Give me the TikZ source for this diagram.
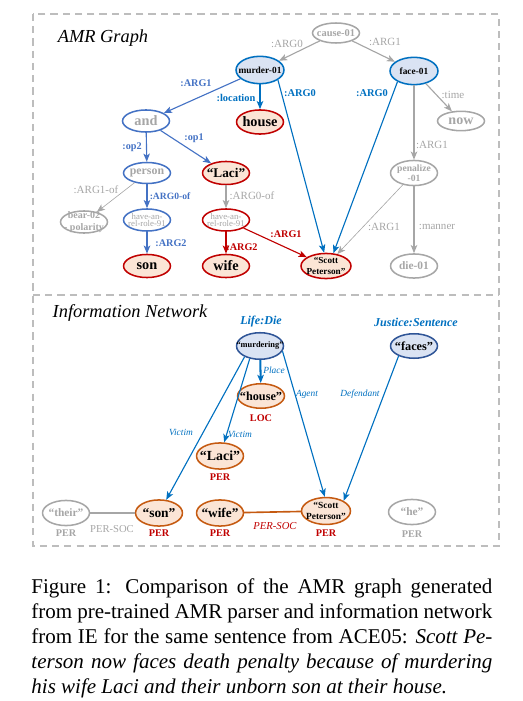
\documentclass[tikz,border=0pt]{standalone}
\usepackage{fontspec}
\setmainfont{Liberation Serif}
\usepackage{xcolor}
\usetikzlibrary{shapes.geometric,arrows.meta}
\definecolor{amrblue}{HTML}{4472C4}
\definecolor{ieblue}{HTML}{0070C0}
\definecolor{nodeblue}{HTML}{DAE3F3}
\definecolor{ienavy}{HTML}{2F5597}
\definecolor{peach}{HTML}{FBE5D6}
\definecolor{cred}{HTML}{C00000}
\definecolor{corange}{HTML}{C55A11}
\definecolor{cgray}{HTML}{A6A6A6}
\definecolor{framegray}{HTML}{BDBDBD}
\newcommand{\fsz}[2]{\fontsize{#1}{#2}\selectfont}

\begin{document}
\begin{tikzpicture}[
  x=0.49pt, y=-0.49pt,
  amr/.style={ellipse, inner xsep=-6pt, inner ysep=-4pt, line width=0.75pt,
    minimum width=23pt, minimum height=10.8pt, align=center},
  gnode/.style={amr, draw=cgray, text=cgray},
  bnode/.style={amr, draw=amrblue, fill=white, text=cgray},
  bfill/.style={amr, draw=ieblue, fill=nodeblue, minimum width=23.5pt, minimum height=13.4pt},
  rnode/.style={amr, draw=cred, fill=peach, minimum height=11.3pt},
  rhave/.style={amr, draw=cred, fill=white, text=cgray},
  ienode/.style={amr, draw=corange, fill=peach, minimum height=12.8pt},
  ibnode/.style={amr, draw=ienavy, fill=nodeblue, minimum height=12.6pt},
  ignode/.style={amr, draw=cgray, text=cgray, minimum height=12.3pt},
  arr/.style={-{Stealth[length=4pt,width=3.2pt,inset=1pt]}, line width=0.55pt},
  garr/.style={arr, color=cgray},
  barr/.style={arr, color=amrblue},
  darr/.style={arr, color=ieblue},
  rarr/.style={arr, color=cred},
  glbl/.style={inner sep=0.5pt, text=cgray, font=\fsz{5.4}{6}},
  blbl/.style={inner sep=0.5pt, text=amrblue, font=\bfseries\fsz{5}{6}},
  dlbl/.style={inner sep=0.5pt, text=ieblue, font=\bfseries\fsz{5.1}{6}},
  rlbl/.style={inner sep=0.5pt, text=cred, font=\bfseries\fsz{5}{6}},
  ilbl/.style={inner sep=0.5pt, text=ieblue, font=\itshape\fsz{4.6}{5}},
  evt/.style={inner sep=0.5pt, text=ieblue, font=\bfseries\itshape\fsz{5.9}{7}},
  per/.style={inner sep=0.5pt, text=cred, font=\bfseries\fsz{5}{6}},
  gper/.style={per, text=cgray},
  title/.style={inner sep=0pt, font=\itshape\fsz{9}{10}}
]
\useasboundingbox (0,0) rectangle (522,701);

% dashed frame
\draw[framegray, line width=0.6pt, dash pattern=on 3.5pt off 2.5pt]
  (33,14) rectangle (499,546);
\draw[framegray, line width=0.6pt, dash pattern=on 3.5pt off 2.5pt]
  (33,295) -- (499,295);

\node[title] (amrtitle) at (103,38) {AMR Graph};
\node[title] (ietitle)  at (130,313) {Information Network};

% AMR graph
\node[gnode, minimum height=9.8pt, font=\bfseries\fsz{5.1}{6}] (cause) at (336,33) {cause-01};
\node[bfill, font=\bfseries\fsz{4.6}{5}] (murder) at (260,70) {murder-01};
\node[bfill, font=\bfseries\fsz{4.6}{5}] (face) at (414,71) {face-01};
\node[rnode, minimum height=11.8pt, font=\bfseries\fsz{7}{8}] (house) at (260,122) {house};
\node[gnode, minimum height=9.5pt, font=\bfseries\fsz{6.9}{8}] (now) at (461,121) {now};
\node[bnode, font=\bfseries\fsz{7}{8}] (and) at (146,121) {and};
\node[bnode, minimum height=10.3pt, font=\bfseries\fsz{5.8}{7}] (person) at (147,173) {person};
\node[rnode, font=\bfseries\fsz{6.5}{7}] (laci) at (226,173) {“Laci”};
\node[gnode, font=\bfseries\fsz{4.9}{5.5}] (bear) at (84,222) {bear-02\\- polarity};
\node[bnode, font=\fsz{4.3}{3.9}] (haveb) at (147,220) {have-an-\\rel-role-91};
\node[rhave, font=\fsz{4.3}{3.9}] (haver) at (226,220) {have-an-\\rel-role-91};
\node[rnode, font=\bfseries\fsz{7}{8}] (son) at (147,266) {son};
\node[rnode, font=\bfseries\fsz{7}{8}] (wife) at (226,266) {wife};
\node[rnode, minimum width=24.5pt, minimum height=12.3pt, font=\bfseries\fsz{4.5}{5.4}] (scott) at (326,266) {“Scott\\Peterson”};
\node[gnode, minimum height=12.3pt, font=\bfseries\fsz{4.7}{4.7}] (penal) at (414,173) {penalize\\-01};
\node[gnode, minimum height=11.8pt, font=\bfseries\fsz{5.6}{6}] (die) at (414,266) {die-01};

\draw[garr] (cause) -- (murder);
\draw[garr] (cause) -- (face);
\draw[barr] (murder) -- (and);
\draw[darr, line width=1pt] (murder) -- (house);
\draw[darr] (murder.-29) -- (scott.98);
\draw[darr] (face.213) -- (scott.60);
\draw[garr] (face) -- (now);
\draw[garr] (face) -- (penal);
\draw[garr, line width=0.3pt] (penal) -- (scott);
\draw[garr] (penal) -- (die);
\draw[barr] (and) -- (person);
\draw[barr] (and) -- (laci);
\draw[garr, line width=0.3pt] (person) -- (bear);
\draw[barr] (person) -- (haveb);
\draw[barr] (haveb) -- (son);
\draw[garr] (laci) -- (haver);
\draw[rarr] (haver) -- (wife);
\draw[rarr] (haver) -- (scott);

\node[glbl] (tcausem) at (287,44) {:ARG0};
\node[glbl] (tcausef) at (385,42) {:ARG1};
\node[blbl] (tmurdera) at (196,83) {:ARG1};
\node[dlbl] (tmurderh) at (236,98) {:location};
\node[dlbl] (tmurders) at (300,93) {:ARG0};
\node[dlbl] (tfaces) at (372,93) {:ARG0};
\node[glbl] (tfacen) at (453,95) {:time};
\node[glbl] (tfacep) at (432,145) {:ARG1};
\node[glbl] (tpenals) at (384,227) {:ARG1};
\node[glbl] (tpenald) at (437,227) {:manner};
\node[blbl] (tandp) at (132,147) {:op2};
\node[blbl] (tandl) at (194,138) {:op1};
\node[glbl] (tpersonb) at (96,190) {:ARG1-of};
\node[blbl, font=\bfseries\fsz{4.7}{6}] (tpersonh) at (170,196) {:ARG0-of};
\node[blbl] (thaves) at (171,243) {:ARG2};
\node[glbl] (tlacih) at (252,196) {:ARG0-of};
\node[rlbl] (thavew) at (242,247) {:ARG2};
\node[rlbl] (thaves2) at (286,234) {:ARG1};

% information network
\node[evt] (lifedie) at (261,322) {Life:Die};
\node[evt] (justice) at (416,322) {Justice:Sentence};
\node[ibnode, minimum height=13pt, font=\bfseries\fsz{4.1}{5}] (murdering) at (260,346) {“murdering”};
\node[ibnode, minimum height=12pt, font=\bfseries\fsz{6}{7}] (faces) at (414,346) {“faces”};
\node[ienode, minimum height=12pt, font=\bfseries\fsz{6}{7}] (ihouse) at (261,396) {“house”};
\node[per] (tloc) at (261,418) {LOC};
\node[ienode, font=\bfseries\fsz{6.8}{8}] (ilaci) at (220,456) {“Laci”};
\node[per] (tlaci) at (220,477) {PER};
\node[ienode, font=\bfseries\fsz{6.6}{8}] (ison) at (159,513) {“son”};
\node[per] (tson) at (159,533) {PER};
\node[ienode, font=\bfseries\fsz{6.5}{8}] (iwife) at (220,513) {“wife”};
\node[per] (twife) at (220,533) {PER};
\node[ignode, font=\bfseries\fsz{5.6}{7}] (their) at (66,513) {“their”};
\node[gper] (ttheir) at (66,533) {PER};
\node[ienode, minimum width=24pt, minimum height=13.2pt, font=\bfseries\fsz{4.6}{5.4}] (iscott) at (326,511) {“Scott\\Peterson”};
\node[per] (tscott) at (326,533) {PER};
\node[ignode, font=\bfseries\fsz{5.6}{7}] (he) at (412,512) {“he”};
\node[gper] (the) at (412,534) {PER};

\draw[darr, line width=1pt] (murdering) -- (ihouse);
\draw[darr] (murdering.215) -- (ison);
\draw[darr] (murdering.231) -- (ilaci);
\draw[darr] (murdering.-13) -- (iscott.95);
\draw[darr] (faces.213) -- (iscott.30);
\draw[cgray, line width=0.8pt] (their) -- (ison);
\draw[corange, line width=0.8pt] (iwife) -- (iscott);

\node[ilbl] (tplace) at (274,370) {Place};
\node[ilbl] (tvicson) at (181,432) {Victim};
\node[ilbl] (tviclaci) at (240,434) {Victim};
\node[ilbl] (tagent) at (307,394) {Agent};
\node[ilbl] (tdef) at (360,394) {Defendant};
\node[glbl, font=\fsz{5.2}{6}] (tsocg) at (112,529) {PER-SOC};
\node[rlbl, font=\itshape\fsz{5.2}{6}] (tsocr) at (275,526) {PER-SOC};

% caption
\node[anchor=north west, inner sep=0pt, text width=225.9pt, align=justify,
  font=\fsz{10.3}{12.25}] (caption) at (31,578)
  {Figure 1: Comparison of the AMR graph generated\linebreak
   from pre-trained AMR parser and information network\linebreak
   from IE for the same sentence from ACE05: \textit{Scott Pe-\linebreak
   terson now faces death penalty because of murdering\linebreak
   his wife Laci and their unborn son at their house.}};
\end{tikzpicture}
\end{document}
